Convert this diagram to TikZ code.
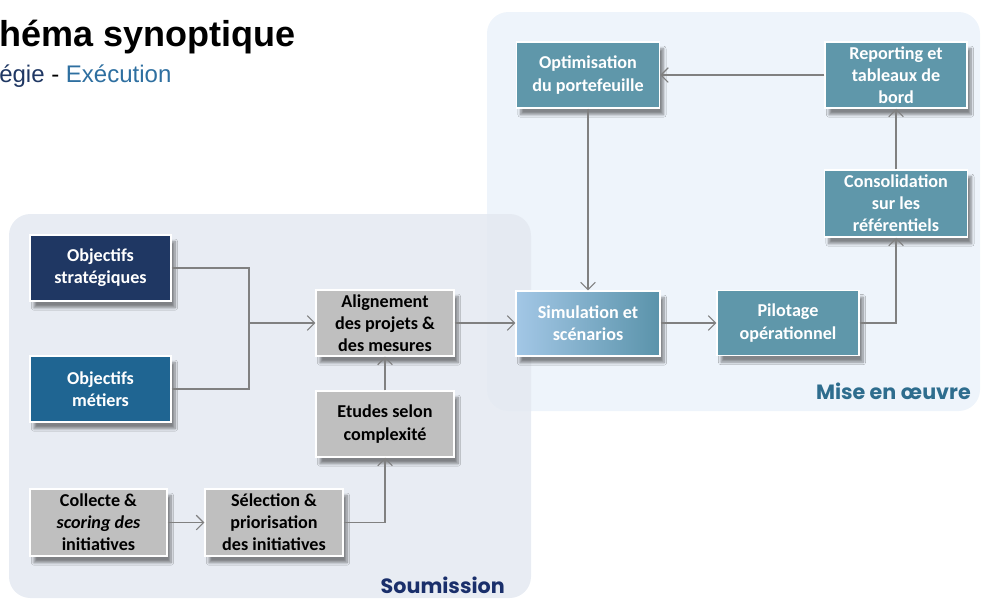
\documentclass[tikz,border=0pt]{standalone}
\usepackage{fontspec}
\setmainfont{Carlito}
\newfontfamily\titlefont{Liberation Sans}
\newfontfamily\panelfont{Poppins}
\usetikzlibrary{arrows.meta,shadows.blur}
\definecolor{navy}{HTML}{1F3763}
\definecolor{metier}{HTML}{1F6592}
\definecolor{tealbox}{HTML}{5F97AA}
\definecolor{graybox}{HTML}{BFBFBF}
\definecolor{lineg}{HTML}{808080}
\definecolor{panelA}{HTML}{E4E9F1}
\definecolor{panelB}{HTML}{EEF4FB}
\definecolor{subblue}{HTML}{2E6FA0}
\definecolor{soumcol}{HTML}{1A2F6B}
\definecolor{misecol}{HTML}{2E6D8E}
\definecolor{simL}{HTML}{A3C7E6}
\definecolor{simR}{HTML}{5A93AA}
\begin{document}
\begin{tikzpicture}[x=0.75pt,y=-0.75pt,
  box/.style={draw=white, line width=1.1pt, align=center, inner sep=2pt,
    font=\fontsize{13.6}{16.6}\selectfont\bfseries,
    blur shadow={shadow xshift=3pt, shadow yshift=-5pt, shadow opacity=45, shadow blur steps=8}},
  wbox/.style={box, text=white},
  gbox/.style={box, fill=graybox, text=black},
  conn/.style={draw=lineg, line width=0.8pt},
  arr/.style={conn, -{Straight Barb[length=5.5pt,width=11pt]}},
  panel/.style={rounded corners=16pt}
]
\useasboundingbox (0,0) rectangle (981,601);
% panels
\fill[panel, panelB] (487,12) rectangle (980,411);
\fill[panel, panelA, fill opacity=0.85] (9,214) rectangle (531,598);
% titles
\node[anchor=base west, inner sep=0, font=\titlefont\fontsize{27}{30}\selectfont\bfseries] (title) at (-1,46) {héma synoptique};
\node[anchor=base west, inner sep=0, font=\titlefont\fontsize{18}{20}\selectfont] (subtitle) at (-1,82) {\textcolor{navy}{égie} - \textcolor{subblue}{Exécution}};
\node[anchor=base east, inner sep=0, text=soumcol, font=\panelfont\fontsize{15.5}{18}\selectfont\bfseries] (soum) at (505,593) {Soumission};
\node[anchor=base east, inner sep=0, text=misecol, font=\panelfont\fontsize{15.5}{18}\selectfont\bfseries] (mise) at (971,399) {Mise en œuvre};
% boxes
\node[wbox, fill=navy, minimum width=105.75pt, minimum height=49.5pt] (strat) at (100.5,268) {Objectifs\\stratégiques};
\node[wbox, fill=metier, minimum width=105.75pt, minimum height=49.5pt] (metier) at (100.5,389) {Objectifs\\métiers};
\node[gbox, minimum width=103.5pt, minimum height=49.5pt] (align) at (385,323) {Alignement\\des projets \&\\des mesures};
\node[gbox, minimum width=103.5pt, minimum height=49.5pt] (etudes) at (385,424) {Etudes selon\\complexité};
\node[gbox, minimum width=102.75pt, minimum height=50.25pt] (collecte) at (98.5,522.5) {Collecte \&\\\textit{scoring des}\\initiatives};
\node[gbox, minimum width=103.5pt, minimum height=50.25pt] (select) at (274,522.5) {Sélection \&\\priorisation\\des initiatives};
\node[wbox, left color=simL, right color=simR, minimum width=108pt, minimum height=48.75pt] (simul) at (588,323.5) {Simulation et\\scénarios};
\node[wbox, fill=tealbox, minimum width=106.5pt, minimum height=48.75pt] (pilot) at (788,323) {Pilotage\\opérationnel};
\node[wbox, fill=tealbox, minimum width=107.25pt, minimum height=49.5pt] (optim) at (588,75) {Optimisation\\du portefeuille};
\node[wbox, fill=tealbox, minimum width=106.5pt, minimum height=49.5pt] (report) at (896,75) {Reporting et\\tableaux de\\bord};
\node[wbox, fill=tealbox, minimum width=107.25pt, minimum height=50.25pt] (consol) at (896,203.5) {Consolidation\\sur les\\référentiels};
% connectors
\coordinate (j) at (249,323);
\draw[conn] (strat.east) -| (j);
\draw[conn] (metier.east) -| (j);
\draw[arr] (j) -- (align.west |- j);
\draw[arr] (etudes.north) -- (align.south);
\draw[arr] (collecte.east) -- (select.west);
\draw[arr] (select.east) -| (etudes.south);
\draw[arr] (align.east) -- (simul.west |- align.east);
\draw[arr] (simul.east |- pilot.west) -- (pilot.west);
\draw[arr] (pilot.east) -| (consol.south);
\draw[arr] (consol.north) -- (report.south);
\draw[arr] (report.west) -- (optim.east);
\draw[arr] (optim.south) -- (simul.north);
\end{tikzpicture}
\end{document}
